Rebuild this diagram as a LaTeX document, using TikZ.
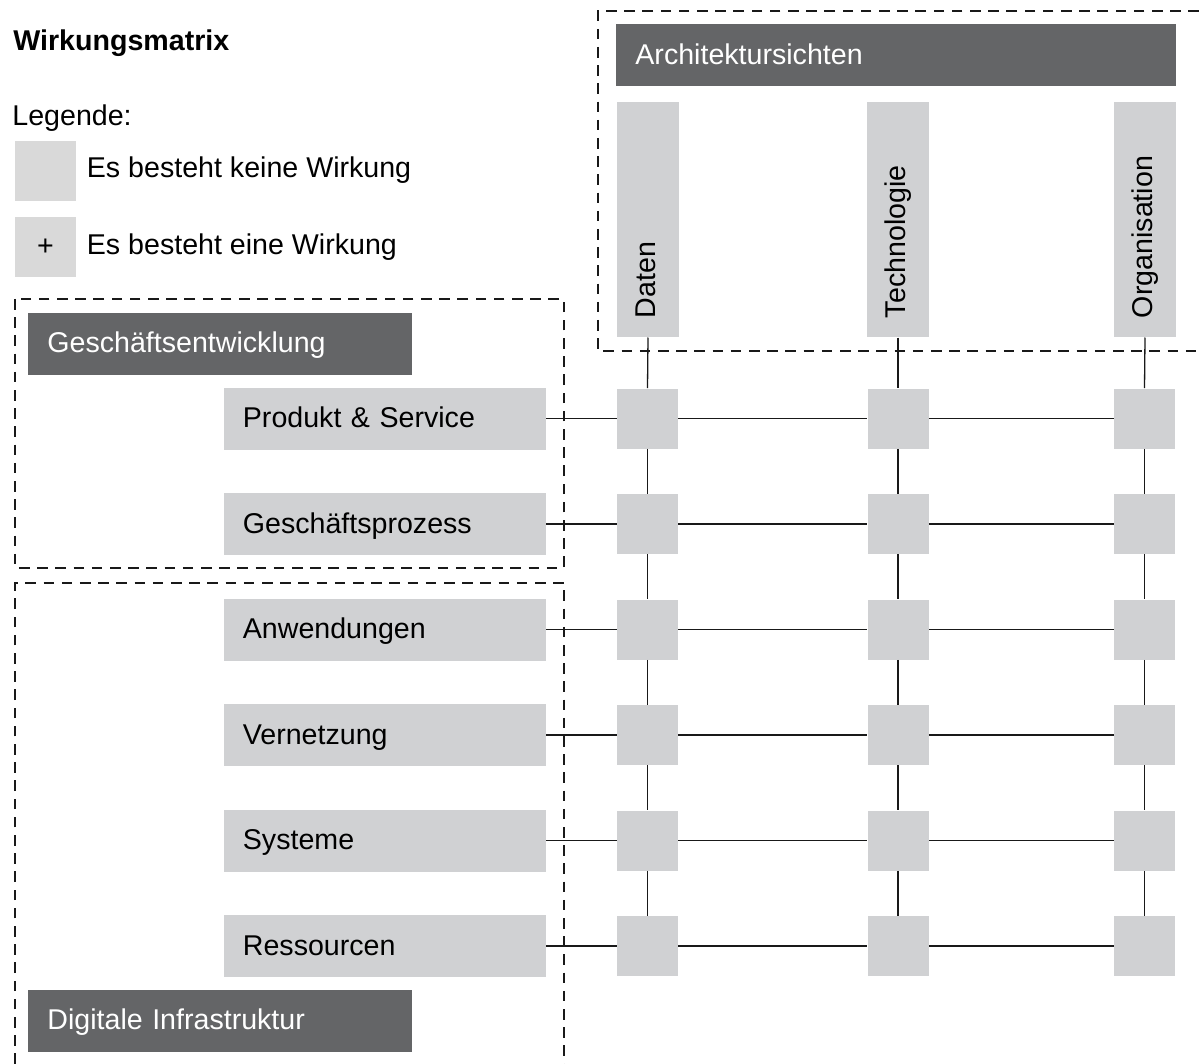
\documentclass[tikz,border=0pt]{standalone}
\usepackage{fontspec}
\setmainfont{Liberation Sans}
\definecolor{barDark}{RGB}{100,101,103}
\definecolor{boxLight}{RGB}{208,209,211}
\definecolor{legendLight}{RGB}{217,217,217}
\begin{document}
\begin{tikzpicture}[
    x=0.5pt, y=-0.5pt,
    font=\fontsize{14.3}{17}\selectfont,
    label text/.style={text height=0.92em, text depth=0pt, align=left,
      inner xsep=9.5pt, inner ysep=0pt, anchor=west},
    darkbar/.style={label text, fill=barDark, text=white,
      minimum height=31pt, text width=#1},
    rowbox/.style={label text, fill=boxLight, text=black,
      minimum height=31pt, text width=142pt},
    colbar/.style={label text, text height=0.74em, fill=boxLight,
      text=black, rotate=90, minimum height=31pt, text width=98.5pt},
    cell/.style={fill=boxLight, minimum width=30.5pt, minimum height=30pt,
      inner sep=0pt},
    legendbox/.style={fill=legendLight, minimum width=30.5pt,
      minimum height=30pt, inner sep=0pt, text height=0.88em, text depth=0pt},
    plain text/.style={anchor=base west, inner sep=0pt},
    link/.style={draw=black!90, line width=0.65pt},
    group/.style={draw=black!90, line width=1.1pt,
      dash pattern=on 5.3pt off 3.8pt},
  ]
  \useasboundingbox (0,0) rectangle (1199,1064);

  % title and legend
  \node[plain text, font=\fontsize{14.3}{17}\selectfont\bfseries] (title) at (13,51) {Wirkungsmatrix};
  \node[plain text] (legend) at (12,126) {Legende:};
  \node[legendbox] (lgnone) at (45.5,171) {};
  \node[plain text] (lgnonetext) at (86.5,178) {Es besteht keine Wirkung};
  \node[legendbox] (lgeffect) at (45.5,247) {+};
  \node[plain text] (lgeffecttext) at (86.5,255) {Es besteht eine Wirkung};

  % groupings
  \draw[group] (1199,11) -- (598,11) -- (598,351) -- (1199,351);
  \draw[group] (15,299) rectangle (564,568);
  \draw[group] (15,1064) -- (15,583) -- (564,583) -- (564,1064);

  % header bars
  \node[darkbar=261pt] (views) at (616,55.5) {Architektursichten};
  \node[darkbar=173pt] (business) at (28,343.5) {Geschäftsentwicklung};
  \node[darkbar=173pt] (infra) at (28,1020.5) {Digitale Infrastruktur};

  % columns: architecture views
  \node[colbar] (c1) at (648,337.5) {Daten};
  \node[colbar] (c2) at (898,337.5) {Technologie};
  \node[colbar] (c3) at (1145,337.5) {Organisation};

  % rows with their matrix cells
  \foreach \r/\y/\t in {1/418.5/Produkt \& Service,
                        2/524/Geschäftsprozess,
                        3/629.5/Anwendungen,
                        4/735/Vernetzung,
                        5/840.5/Systeme,
                        6/946/Ressourcen}{
    \node[rowbox] (r\r) at (223.5,\y) {\t};
    \node[cell] (m\r1) at (647.5,\y) {};
    \node[cell] (m\r2) at (898,\y) {};
    \node[cell] (m\r3) at (1144.5,\y) {};
    \draw[link] (r\r.east) -- (m\r1.west);
    \draw[link] (m\r1.east) -- (m\r2.west);
    \draw[link] (m\r2.east) -- (m\r3.west);
  }

  % vertical connectors
  \foreach \c in {1,2,3}{
    \draw[link] (c\c.west) -- (m1\c.north);
    \foreach \a/\b in {1/2,2/3,3/4,4/5,5/6}{
      \draw[link] (m\a\c.south) -- (m\b\c.north);
    }
  }
\end{tikzpicture}
\end{document}
